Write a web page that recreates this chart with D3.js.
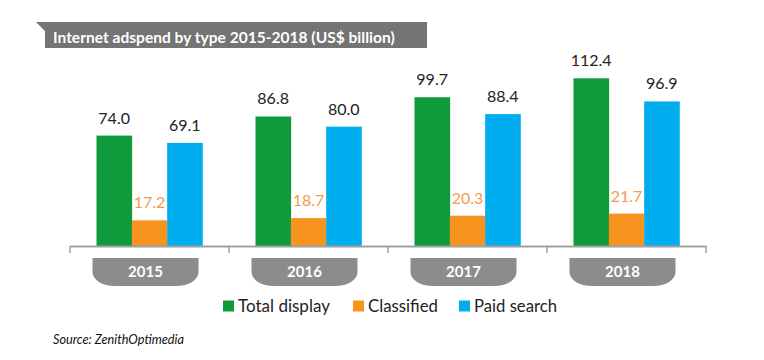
<!DOCTYPE html>
<html><head><meta charset="utf-8">
<script src="https://cdn.jsdelivr.net/npm/d3@7"></script>
<style>body{margin:0;background:#fff}svg{display:block}</style>
</head><body>
<svg id="c" width="764" height="360"></svg>
<script>
const years = ["2015","2016","2017","2018"];
const series = ["Total display","Classified","Paid search"];
const totalDisplay = [74.0, 86.8, 99.7, 112.4];
const classified = [17.2, 18.7, 20.3, 21.7];
const paidSearch = [69.1, 80.0, 88.4, 96.9];
const values = [totalDisplay, classified, paidSearch];
const colors = ["#0f9a3c", "#f7931e", "#00aeef"];
const labelColors = ["#222", "#f09a52", "#222"];
const titleText = "Internet adspend by type 2015-2018 (US$ billion)";
const sourceText = "Source: ZenithOptimedia";

const svg = d3.select("#c");
const font = "Lato, 'Open Sans', sans-serif";

function fit(sel, w){
  const l = sel.node().getComputedTextLength();
  const fs = parseFloat(sel.attr("font-size"));
  sel.attr("font-size", fs * w / l);
}

// title banner
svg.append("path")
  .attr("d", "M36,22 L427,22 L427,48 L45,48 L45,31 Z")
  .attr("fill", "#747474");
const t = svg.append("text").attr("x", 53).attr("y", 43)
  .attr("font-family", font).attr("font-weight", "bold").attr("font-size", 15)
  .attr("fill", "#fff").text(titleText);
fit(t, 342);

const x = d3.scaleBand().domain(years).range([70, 706]);
const groupW = 106;
const xs = d3.scaleBand().domain(series).range([0, groupW]);
const y = d3.scaleLinear().domain([0, 120]).range([246, 246 - 120 * 1.492]);

const data = [];
years.forEach((yr, i) => series.forEach((s, j) => data.push({yr, s, j, v: values[j][i]})));

const gx = d => x(d.yr) + (x.bandwidth() - groupW) / 2 + xs(d.s);

svg.selectAll("rect.bar").data(data).join("rect").attr("class", "bar")
  .attr("x", gx).attr("width", xs.bandwidth() + 0.3)
  .attr("y", d => y(d.v)).attr("height", d => y(0) - y(d.v))
  .attr("fill", d => colors[d.j]);

svg.selectAll("text.val").data(data).join("text").attr("class", "val")
  .attr("x", d => gx(d) + xs.bandwidth() / 2)
  .attr("y", d => y(d.v) - 12)
  .attr("text-anchor", "middle")
  .attr("font-family", font).attr("font-size", 16)
  .attr("fill", d => labelColors[d.j])
  .text(d => d.v.toFixed(1));

// axis
const axis = d3.axisBottom(x).tickValues([]).tickSizeOuter(0);
const ag = svg.append("g").attr("transform", `translate(0,${y(0)})`).call(axis);
ag.select(".domain").attr("stroke", "#a0a0a0").attr("stroke-width", 2);
const tickPos = x.domain().map(d => x(d)).concat([x.range()[1]]);
ag.selectAll("line.tk").data(tickPos).join("line").attr("class", "tk")
  .attr("x1", d => d).attr("x2", d => d).attr("y1", 0).attr("y2", 7)
  .attr("stroke", "#a0a0a0").attr("stroke-width", 1.5);

// year tabs
const tabW = 106, tabTop = 258, tabBot = 286;
const tabs = svg.selectAll("g.tab").data(years).join("g").attr("class", "tab")
  .attr("transform", d => `translate(${x(d) + x.bandwidth() / 2 - 4},0)`);
tabs.append("path")
  .attr("d", () => {
    const h = tabW / 2, rx = 22, ry = 14;
    return `M${-h},${tabTop} L${h},${tabTop} L${h},${tabBot - ry} A${rx},${ry} 0 0 1 ${h - rx},${tabBot} L${-h + rx},${tabBot} A${rx},${ry} 0 0 1 ${-h},${tabBot - ry} Z`;
  })
  .attr("fill", "#8c8c8c");
tabs.append("text").attr("x", 0).attr("y", 276.5).attr("text-anchor", "middle")
  .attr("font-family", font).attr("font-weight", "bold").attr("font-size", 15)
  .attr("fill", "#fff").text(d => d);

// legend
const legX = [223, 353, 459];
const legW = [92, 70, 83];
const lg = svg.selectAll("g.leg").data(series).join("g").attr("class", "leg");
lg.append("rect").attr("x", (d, i) => legX[i]).attr("y", 300.5)
  .attr("width", 11).attr("height", 11).attr("fill", (d, i) => colors[i]);
lg.append("text").attr("x", (d, i) => legX[i] + 15).attr("y", 311.5)
  .attr("font-family", font).attr("font-size", 15).attr("fill", "#222")
  .text(d => d).each(function(d, i){ fit(d3.select(this), legW[i]); });

const s = svg.append("text").attr("x", 53).attr("y", 344)
  .attr("font-family", font).attr("font-style", "italic").attr("font-size", 11)
  .attr("fill", "#111").text(sourceText);
fit(s, 131);
</script>
</body></html>
